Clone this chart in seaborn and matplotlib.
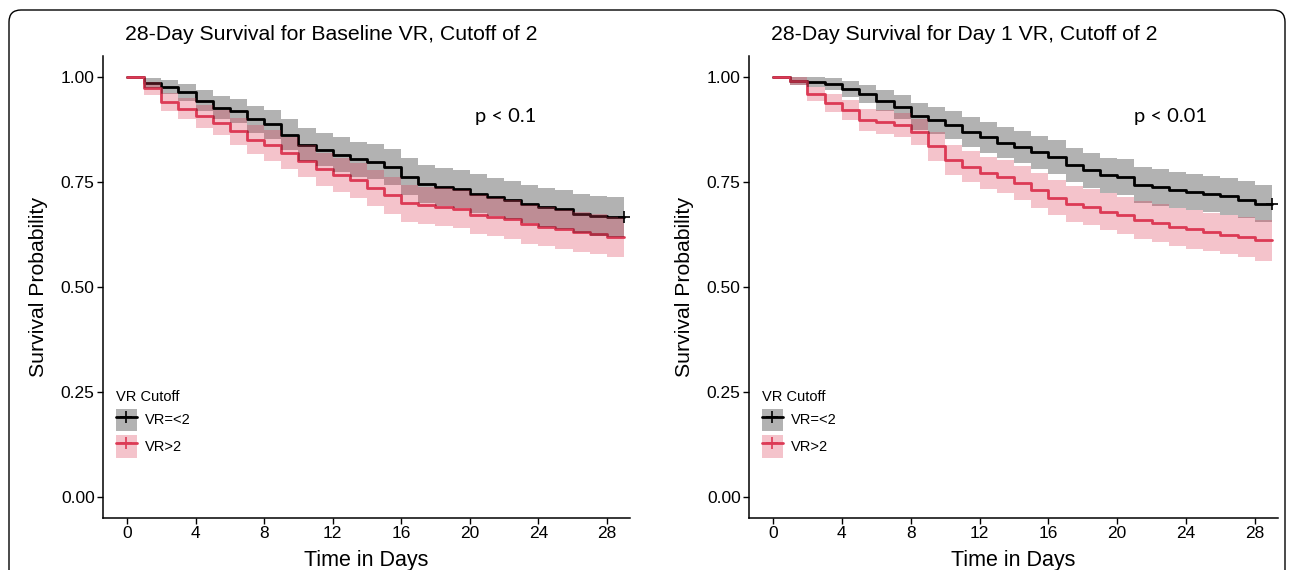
import numpy as np
import pandas as pd
import matplotlib.pyplot as plt
import seaborn as sns
from matplotlib.patches import FancyBboxPatch, Patch
from matplotlib.lines import Line2D
from matplotlib.transforms import IdentityTransform

# Kaplan-Meier estimates, one value per day 0..28
days = list(range(29))

base_low_surv = [1.000, 0.986, 0.976, 0.964, 0.944, 0.927, 0.919, 0.899, 0.887, 0.863,
                 0.839, 0.827, 0.815, 0.804, 0.798, 0.786, 0.762, 0.746, 0.738, 0.734,
                 0.722, 0.714, 0.707, 0.698, 0.690, 0.685, 0.675, 0.669, 0.667]
base_low_lo = [1.000, 0.974, 0.960, 0.944, 0.920, 0.900, 0.890, 0.867, 0.853, 0.826,
               0.800, 0.787, 0.774, 0.762, 0.756, 0.743, 0.718, 0.701, 0.693, 0.689,
               0.676, 0.668, 0.661, 0.652, 0.644, 0.638, 0.628, 0.622, 0.620]
base_low_hi = [1.000, 0.998, 0.992, 0.984, 0.968, 0.955, 0.948, 0.931, 0.921, 0.900,
               0.878, 0.867, 0.856, 0.846, 0.840, 0.829, 0.806, 0.791, 0.783, 0.779,
               0.768, 0.760, 0.753, 0.744, 0.736, 0.732, 0.722, 0.716, 0.714]

base_high_surv = [1.000, 0.973, 0.941, 0.925, 0.906, 0.891, 0.871, 0.851, 0.837, 0.819,
                  0.801, 0.780, 0.766, 0.754, 0.736, 0.718, 0.699, 0.695, 0.690, 0.686,
                  0.672, 0.667, 0.661, 0.649, 0.644, 0.637, 0.631, 0.627, 0.619]
base_high_lo = [1.000, 0.958, 0.919, 0.900, 0.878, 0.861, 0.839, 0.817, 0.801, 0.782,
                0.763, 0.741, 0.726, 0.713, 0.694, 0.675, 0.655, 0.651, 0.645, 0.641,
                0.626, 0.621, 0.615, 0.602, 0.597, 0.590, 0.584, 0.579, 0.571]
base_high_hi = [1.000, 0.988, 0.963, 0.950, 0.934, 0.921, 0.903, 0.885, 0.873, 0.856,
                0.839, 0.819, 0.806, 0.795, 0.778, 0.761, 0.743, 0.739, 0.735, 0.731,
                0.718, 0.713, 0.707, 0.696, 0.691, 0.684, 0.678, 0.675, 0.667]

day1_low_surv = [1.000, 0.990, 0.988, 0.983, 0.972, 0.960, 0.944, 0.929, 0.906, 0.897,
                 0.885, 0.869, 0.856, 0.843, 0.833, 0.821, 0.810, 0.790, 0.778, 0.766,
                 0.762, 0.742, 0.737, 0.732, 0.726, 0.722, 0.716, 0.708, 0.698]
day1_low_lo = [1.000, 0.980, 0.976, 0.968, 0.953, 0.938, 0.919, 0.901, 0.875, 0.865,
               0.852, 0.834, 0.820, 0.806, 0.795, 0.782, 0.770, 0.749, 0.736, 0.724,
               0.720, 0.699, 0.694, 0.689, 0.683, 0.679, 0.672, 0.664, 0.654]
day1_low_hi = [1.000, 1.000, 1.000, 0.998, 0.991, 0.982, 0.969, 0.957, 0.937, 0.929,
               0.918, 0.904, 0.892, 0.880, 0.871, 0.860, 0.850, 0.831, 0.820, 0.808,
               0.804, 0.785, 0.780, 0.775, 0.769, 0.765, 0.760, 0.752, 0.742]

day1_high_surv = [1.000, 0.990, 0.960, 0.938, 0.921, 0.898, 0.893, 0.885, 0.869, 0.835,
                  0.803, 0.786, 0.771, 0.763, 0.748, 0.730, 0.713, 0.698, 0.690, 0.679,
                  0.671, 0.660, 0.652, 0.643, 0.637, 0.631, 0.625, 0.619, 0.611]
day1_high_lo = [1.000, 0.980, 0.943, 0.917, 0.897, 0.871, 0.865, 0.856, 0.838, 0.801,
                0.767, 0.749, 0.733, 0.724, 0.708, 0.689, 0.671, 0.655, 0.647, 0.635,
                0.627, 0.615, 0.607, 0.597, 0.591, 0.585, 0.578, 0.572, 0.563]
day1_high_hi = [1.000, 1.000, 0.977, 0.959, 0.945, 0.925, 0.921, 0.914, 0.900, 0.869,
                0.839, 0.823, 0.809, 0.802, 0.788, 0.771, 0.755, 0.741, 0.733, 0.723,
                0.715, 0.705, 0.697, 0.689, 0.683, 0.677, 0.672, 0.666, 0.659]

end_day = 29
groups = ["VR=<2", "VR>2"]
colors = {"VR=<2": "#000000", "VR>2": "#DC3A55"}
titles = ["28-Day Survival for Baseline VR, Cutoff of 2",
          "28-Day Survival for Day 1 VR, Cutoff of 2"]
pvals = ["p < 0.1", "p < 0.01"]
pval_pos = [(22.1, 0.905), (23.1, 0.905)]
y_ticks = [0.0, 0.25, 0.5, 0.75, 1.0]
x_ticks = [0, 4, 8, 12, 16, 20, 24, 28]

panels = [
    {"VR=<2": (base_low_surv, base_low_lo, base_low_hi),
     "VR>2": (base_high_surv, base_high_lo, base_high_hi)},
    {"VR=<2": (day1_low_surv, day1_low_lo, day1_low_hi),
     "VR>2": (day1_high_surv, day1_high_lo, day1_high_hi)},
]

rows = []
for p, panel in enumerate(panels):
    for g in groups:
        s, lo, hi = panel[g]
        # step curves carry the last estimate on to the end of follow-up
        t = days + [end_day]
        s, lo, hi = s + [s[-1]], lo + [lo[-1]], hi + [hi[-1]]
        for i in range(len(t)):
            rows.append((p, g, t[i], s[i], lo[i], hi[i]))
df = pd.DataFrame(rows, columns=["panel", "group", "day", "surv", "lo", "hi"])

sns.set_style("ticks")
plt.rcParams["font.family"] = ["Liberation Sans", "DejaVu Sans"]
plt.rcParams["text.color"] = "black"
plt.rcParams["axes.labelcolor"] = "black"

fig = plt.figure(figsize=(12.95, 5.7), dpi=100)
W, H = 1295, 570
axes_px = [(103, 630), (749, 1278)]
top_px, bot_px = 56, 518

for p, (x0, x1) in enumerate(axes_px):
    ax = fig.add_axes([x0 / W, 1 - bot_px / H, (x1 - x0) / W, (bot_px - top_px) / H])
    sub = df[df.panel == p]
    sns.lineplot(data=sub, x="day", y="surv", hue="group", palette=colors,
                 drawstyle="steps-post", estimator=None, lw=2, ax=ax,
                 legend=False, zorder=2)
    for g in groups:
        d = sub[sub.group == g]
        ax.fill_between(d.day, d.lo, d.hi, step="post", color=colors[g],
                        alpha=0.3, lw=0, zorder=3)
    # censor mark at end of follow-up
    last = sub[(sub.group == "VR=<2") & (sub.day == end_day)]
    ax.plot(last.day, last.surv, marker="+", ms=9, mew=1.2, color="black",
            ls="none", zorder=4)

    ax.set_xlim(-1.4, 29.35)
    ax.set_ylim(-0.05, 1.05)
    ax.set_xticks(x_ticks)
    ax.set_yticks(y_ticks)
    ax.set_yticklabels([f"{v:.2f}" for v in y_ticks])
    ax.tick_params(labelsize=12.5, colors="black", length=4, width=1, pad=2)
    for sp in ["top", "right"]:
        ax.spines[sp].set_visible(False)
    for sp in ["left", "bottom"]:
        ax.spines[sp].set_color("black")
        ax.spines[sp].set_linewidth(1.1)
    ax.set_xlabel("Time in Days", fontsize=15.5, labelpad=6)
    ax.set_ylabel("Survival Probability", fontsize=15.3, labelpad=9)
    ax.text(pval_pos[p][0], pval_pos[p][1], pvals[p], fontsize=14.5,
            family=["Lato", "DejaVu Sans"], ha="center", va="center")
    fig.text((x0 + 22) / W, 1 - 35 / H, titles[p], fontsize=15.3, ha="left",
             va="center")

    handles = [(Patch(fc=colors[g], alpha=0.3, ec="none"),
                Line2D([], [], color=colors[g], lw=2, marker="+", ms=9, mew=1.2))
               for g in groups]
    leg = ax.legend(handles, groups, title="VR Cutoff", loc="upper left",
                    bbox_to_anchor=(0.0, 0.305), frameon=False, fontsize=10.5,
                    title_fontsize=10.5, handlelength=1.4, handleheight=2.0,
                    labelspacing=0.3, handletextpad=0.6, alignment="left")

frame = FancyBboxPatch((9, -40), 1276, 600, boxstyle="round,pad=0,rounding_size=12",
                       transform=IdentityTransform(), fill=False, ec="black",
                       lw=1, clip_on=False)
fig.patches.append(frame)

fig.savefig("out.png", dpi=100)
